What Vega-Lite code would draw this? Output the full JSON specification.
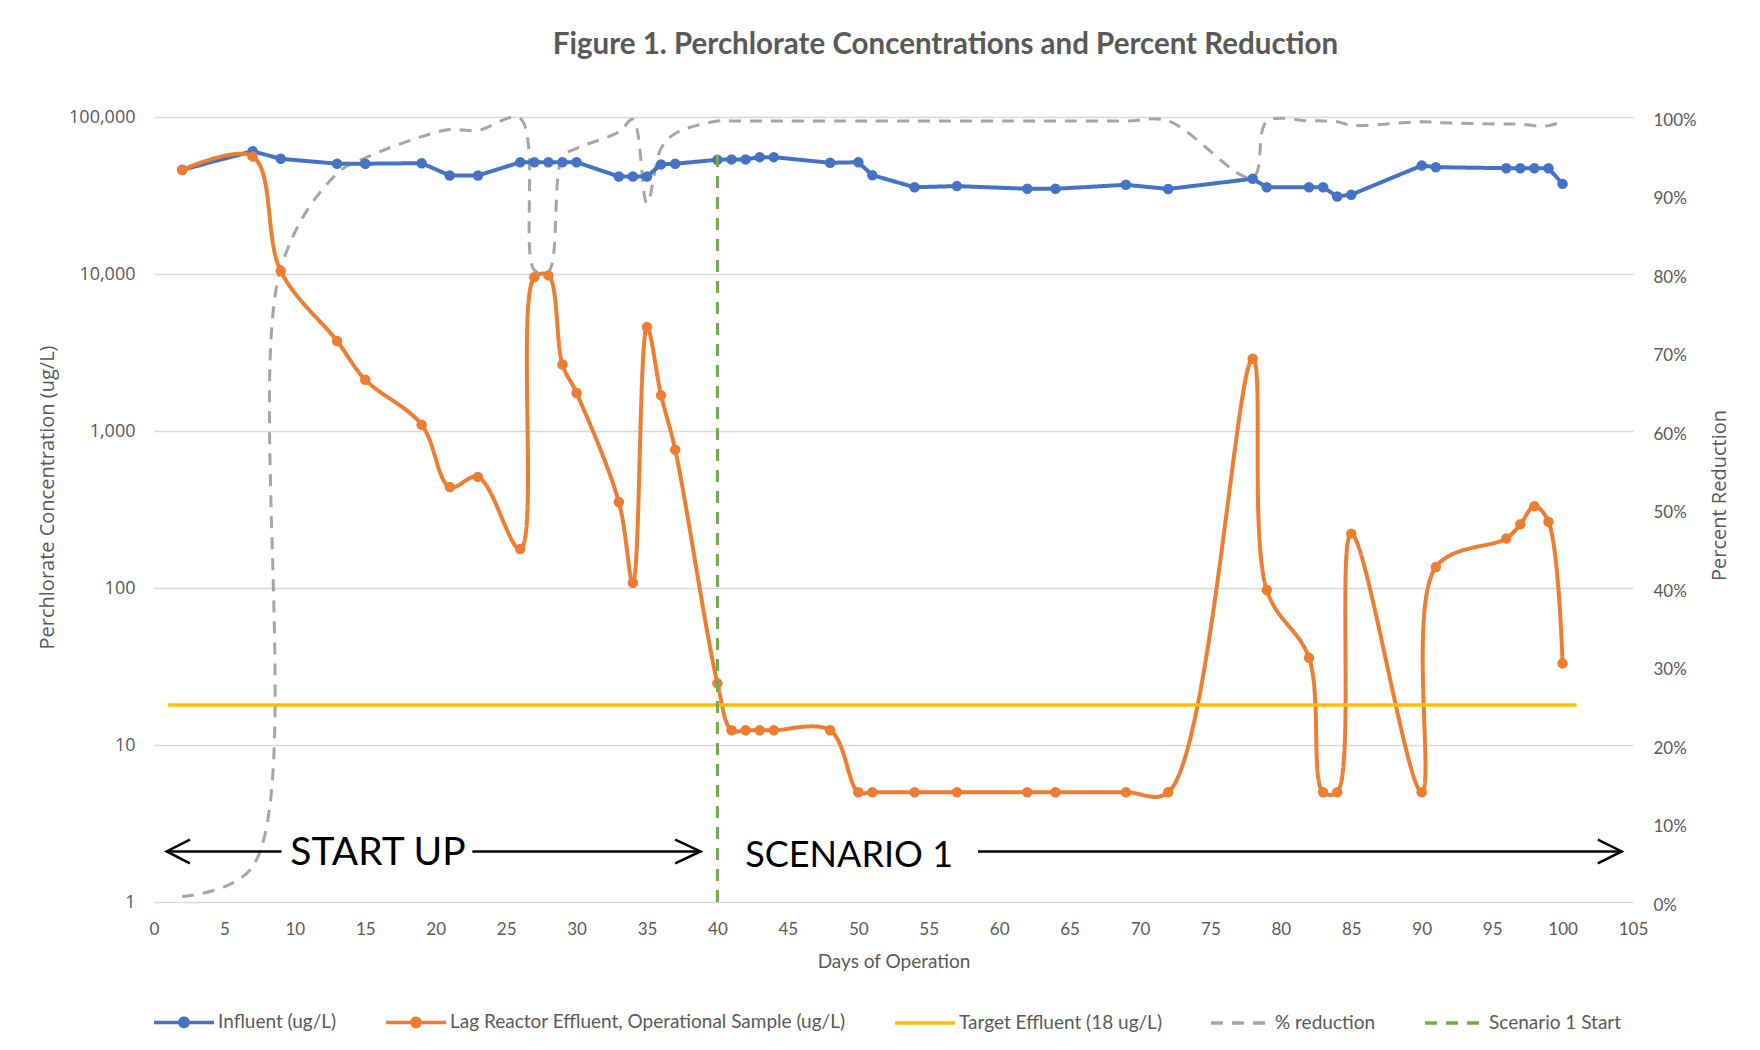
{
  "$schema": "https://vega.github.io/schema/vega-lite/v6.json",
  "width": 1479,
  "height": 785,
  "autosize": {"type": "none"},
  "padding": {"left": 154, "top": 117, "right": 127, "bottom": 148},
  "background": "white",
  "title": {
    "text": "Figure 1. Perchlorate Concentrations and Percent Reduction",
    "font": "Lato", "fontSize": 29.5, "fontWeight": "bold", "color": "#595959",
    "anchor": "middle", "frame": "group", "dx": 52, "offset": 25, "baseline": "alphabetic"
  },
  "config": {"view": {"stroke": null}, "font": "Lato"},
  "datasets": {
    "conc": [
      {"series": "Influent (ug/L)", "day": 2, "value": 46100},
      {"series": "Influent (ug/L)", "day": 7, "value": 60500},
      {"series": "Influent (ug/L)", "day": 9, "value": 54200},
      {"series": "Influent (ug/L)", "day": 13, "value": 50400},
      {"series": "Influent (ug/L)", "day": 15, "value": 50400},
      {"series": "Influent (ug/L)", "day": 19, "value": 50800},
      {"series": "Influent (ug/L)", "day": 21, "value": 42400},
      {"series": "Influent (ug/L)", "day": 23, "value": 42400},
      {"series": "Influent (ug/L)", "day": 26, "value": 51500},
      {"series": "Influent (ug/L)", "day": 27, "value": 51500},
      {"series": "Influent (ug/L)", "day": 28, "value": 51500},
      {"series": "Influent (ug/L)", "day": 29, "value": 51500},
      {"series": "Influent (ug/L)", "day": 30, "value": 51500},
      {"series": "Influent (ug/L)", "day": 33, "value": 41800},
      {"series": "Influent (ug/L)", "day": 34, "value": 41800},
      {"series": "Influent (ug/L)", "day": 35, "value": 41800},
      {"series": "Influent (ug/L)", "day": 36, "value": 49900},
      {"series": "Influent (ug/L)", "day": 37, "value": 50400},
      {"series": "Influent (ug/L)", "day": 40, "value": 53400},
      {"series": "Influent (ug/L)", "day": 41, "value": 53700},
      {"series": "Influent (ug/L)", "day": 42, "value": 53700},
      {"series": "Influent (ug/L)", "day": 43, "value": 55500},
      {"series": "Influent (ug/L)", "day": 44, "value": 55500},
      {"series": "Influent (ug/L)", "day": 48, "value": 51100},
      {"series": "Influent (ug/L)", "day": 50, "value": 51500},
      {"series": "Influent (ug/L)", "day": 51, "value": 42600},
      {"series": "Influent (ug/L)", "day": 54, "value": 35700},
      {"series": "Influent (ug/L)", "day": 57, "value": 36300},
      {"series": "Influent (ug/L)", "day": 62, "value": 34900},
      {"series": "Influent (ug/L)", "day": 64, "value": 34900},
      {"series": "Influent (ug/L)", "day": 69, "value": 37000},
      {"series": "Influent (ug/L)", "day": 72, "value": 34800},
      {"series": "Influent (ug/L)", "day": 78, "value": 40400},
      {"series": "Influent (ug/L)", "day": 79, "value": 35700},
      {"series": "Influent (ug/L)", "day": 82, "value": 35700},
      {"series": "Influent (ug/L)", "day": 83, "value": 35700},
      {"series": "Influent (ug/L)", "day": 84, "value": 31200},
      {"series": "Influent (ug/L)", "day": 85, "value": 32000},
      {"series": "Influent (ug/L)", "day": 90, "value": 49100},
      {"series": "Influent (ug/L)", "day": 91, "value": 47900},
      {"series": "Influent (ug/L)", "day": 96, "value": 47200},
      {"series": "Influent (ug/L)", "day": 97, "value": 47200},
      {"series": "Influent (ug/L)", "day": 98, "value": 47200},
      {"series": "Influent (ug/L)", "day": 99, "value": 47200},
      {"series": "Influent (ug/L)", "day": 100, "value": 37500},
      {"series": "Lag Reactor Effluent, Operational Sample (ug/L)", "day": 2, "value": 46000},
      {"series": "Lag Reactor Effluent, Operational Sample (ug/L)", "day": 7, "value": 56100},
      {"series": "Lag Reactor Effluent, Operational Sample (ug/L)", "day": 9, "value": 10440},
      {"series": "Lag Reactor Effluent, Operational Sample (ug/L)", "day": 13, "value": 3740},
      {"series": "Lag Reactor Effluent, Operational Sample (ug/L)", "day": 15, "value": 2120},
      {"series": "Lag Reactor Effluent, Operational Sample (ug/L)", "day": 19, "value": 1097},
      {"series": "Lag Reactor Effluent, Operational Sample (ug/L)", "day": 21, "value": 440},
      {"series": "Lag Reactor Effluent, Operational Sample (ug/L)", "day": 23, "value": 510},
      {"series": "Lag Reactor Effluent, Operational Sample (ug/L)", "day": 26, "value": 177},
      {"series": "Lag Reactor Effluent, Operational Sample (ug/L)", "day": 27, "value": 9550},
      {"series": "Lag Reactor Effluent, Operational Sample (ug/L)", "day": 28, "value": 9800},
      {"series": "Lag Reactor Effluent, Operational Sample (ug/L)", "day": 29, "value": 2650},
      {"series": "Lag Reactor Effluent, Operational Sample (ug/L)", "day": 30, "value": 1745},
      {"series": "Lag Reactor Effluent, Operational Sample (ug/L)", "day": 33, "value": 353},
      {"series": "Lag Reactor Effluent, Operational Sample (ug/L)", "day": 34, "value": 108},
      {"series": "Lag Reactor Effluent, Operational Sample (ug/L)", "day": 35, "value": 4590},
      {"series": "Lag Reactor Effluent, Operational Sample (ug/L)", "day": 36, "value": 1687},
      {"series": "Lag Reactor Effluent, Operational Sample (ug/L)", "day": 37, "value": 761},
      {"series": "Lag Reactor Effluent, Operational Sample (ug/L)", "day": 40, "value": 24.7},
      {"series": "Lag Reactor Effluent, Operational Sample (ug/L)", "day": 41, "value": 12.4},
      {"series": "Lag Reactor Effluent, Operational Sample (ug/L)", "day": 42, "value": 12.4},
      {"series": "Lag Reactor Effluent, Operational Sample (ug/L)", "day": 43, "value": 12.4},
      {"series": "Lag Reactor Effluent, Operational Sample (ug/L)", "day": 44, "value": 12.4},
      {"series": "Lag Reactor Effluent, Operational Sample (ug/L)", "day": 48, "value": 12.4},
      {"series": "Lag Reactor Effluent, Operational Sample (ug/L)", "day": 50, "value": 5},
      {"series": "Lag Reactor Effluent, Operational Sample (ug/L)", "day": 51, "value": 5},
      {"series": "Lag Reactor Effluent, Operational Sample (ug/L)", "day": 54, "value": 5},
      {"series": "Lag Reactor Effluent, Operational Sample (ug/L)", "day": 57, "value": 5},
      {"series": "Lag Reactor Effluent, Operational Sample (ug/L)", "day": 62, "value": 5},
      {"series": "Lag Reactor Effluent, Operational Sample (ug/L)", "day": 64, "value": 5},
      {"series": "Lag Reactor Effluent, Operational Sample (ug/L)", "day": 69, "value": 5},
      {"series": "Lag Reactor Effluent, Operational Sample (ug/L)", "day": 72, "value": 5},
      {"series": "Lag Reactor Effluent, Operational Sample (ug/L)", "day": 78, "value": 2890},
      {"series": "Lag Reactor Effluent, Operational Sample (ug/L)", "day": 79, "value": 97},
      {"series": "Lag Reactor Effluent, Operational Sample (ug/L)", "day": 82, "value": 35.9},
      {"series": "Lag Reactor Effluent, Operational Sample (ug/L)", "day": 83, "value": 5},
      {"series": "Lag Reactor Effluent, Operational Sample (ug/L)", "day": 84, "value": 5},
      {"series": "Lag Reactor Effluent, Operational Sample (ug/L)", "day": 85, "value": 222},
      {"series": "Lag Reactor Effluent, Operational Sample (ug/L)", "day": 90, "value": 5},
      {"series": "Lag Reactor Effluent, Operational Sample (ug/L)", "day": 91, "value": 136},
      {"series": "Lag Reactor Effluent, Operational Sample (ug/L)", "day": 96, "value": 207},
      {"series": "Lag Reactor Effluent, Operational Sample (ug/L)", "day": 97, "value": 255},
      {"series": "Lag Reactor Effluent, Operational Sample (ug/L)", "day": 98, "value": 332},
      {"series": "Lag Reactor Effluent, Operational Sample (ug/L)", "day": 99, "value": 264},
      {"series": "Lag Reactor Effluent, Operational Sample (ug/L)", "day": 100, "value": 33.1},
      {"series": "Target Effluent (18 ug/L)", "day": 1, "value": 18},
      {"series": "Target Effluent (18 ug/L)", "day": 101, "value": 18},
      {"series": "Scenario 1 Start", "day": 40, "value": 1},
      {"series": "Scenario 1 Start", "day": 40, "value": 58000}
    ],
    "pct": [
      {"series": "% reduction", "day": 2, "pct": 0.007},
      {"series": "% reduction", "day": 7, "pct": 0.045},
      {"series": "% reduction", "day": 9, "pct": 0.807},
      {"series": "% reduction", "day": 13, "pct": 0.928},
      {"series": "% reduction", "day": 15, "pct": 0.948},
      {"series": "% reduction", "day": 19, "pct": 0.975},
      {"series": "% reduction", "day": 21, "pct": 0.984},
      {"series": "% reduction", "day": 23, "pct": 0.983},
      {"series": "% reduction", "day": 26, "pct": 0.998},
      {"series": "% reduction", "day": 27, "pct": 0.805},
      {"series": "% reduction", "day": 28, "pct": 0.803},
      {"series": "% reduction", "day": 29, "pct": 0.949},
      {"series": "% reduction", "day": 30, "pct": 0.96},
      {"series": "% reduction", "day": 33, "pct": 0.981},
      {"series": "% reduction", "day": 34, "pct": 0.997},
      {"series": "% reduction", "day": 35, "pct": 0.89},
      {"series": "% reduction", "day": 36, "pct": 0.96},
      {"series": "% reduction", "day": 37, "pct": 0.979},
      {"series": "% reduction", "day": 40, "pct": 0.995},
      {"series": "% reduction", "day": 41, "pct": 0.995},
      {"series": "% reduction", "day": 42, "pct": 0.995},
      {"series": "% reduction", "day": 43, "pct": 0.995},
      {"series": "% reduction", "day": 44, "pct": 0.995},
      {"series": "% reduction", "day": 48, "pct": 0.995},
      {"series": "% reduction", "day": 50, "pct": 0.995},
      {"series": "% reduction", "day": 51, "pct": 0.995},
      {"series": "% reduction", "day": 54, "pct": 0.995},
      {"series": "% reduction", "day": 57, "pct": 0.995},
      {"series": "% reduction", "day": 62, "pct": 0.995},
      {"series": "% reduction", "day": 64, "pct": 0.995},
      {"series": "% reduction", "day": 69, "pct": 0.995},
      {"series": "% reduction", "day": 72, "pct": 0.995},
      {"series": "% reduction", "day": 78, "pct": 0.923},
      {"series": "% reduction", "day": 79, "pct": 0.994},
      {"series": "% reduction", "day": 82, "pct": 0.995},
      {"series": "% reduction", "day": 83, "pct": 0.995},
      {"series": "% reduction", "day": 84, "pct": 0.994},
      {"series": "% reduction", "day": 85, "pct": 0.9895},
      {"series": "% reduction", "day": 90, "pct": 0.994},
      {"series": "% reduction", "day": 91, "pct": 0.993},
      {"series": "% reduction", "day": 96, "pct": 0.991},
      {"series": "% reduction", "day": 97, "pct": 0.991},
      {"series": "% reduction", "day": 98, "pct": 0.989},
      {"series": "% reduction", "day": 99, "pct": 0.989},
      {"series": "% reduction", "day": 100, "pct": 0.994}
    ],
    "arrows": [
      {"seg": "s1", "ord": 1, "day": 0.9, "value": 2.1},
      {"seg": "s1", "ord": 2, "day": 9.05, "value": 2.1},
      {"seg": "h1", "ord": 1, "day": 2.55, "value": 2.5},
      {"seg": "h1", "ord": 2, "day": 0.9, "value": 2.1},
      {"seg": "h1", "ord": 3, "day": 2.55, "value": 1.764},
      {"seg": "s2", "ord": 1, "day": 22.6, "value": 2.1},
      {"seg": "s2", "ord": 2, "day": 38.8, "value": 2.1},
      {"seg": "h2", "ord": 1, "day": 37.0, "value": 2.5},
      {"seg": "h2", "ord": 2, "day": 38.8, "value": 2.1},
      {"seg": "h2", "ord": 3, "day": 37.0, "value": 1.764},
      {"seg": "s3", "ord": 1, "day": 58.5, "value": 2.1},
      {"seg": "s3", "ord": 2, "day": 104.2, "value": 2.1},
      {"seg": "h3", "ord": 1, "day": 102.5, "value": 2.5},
      {"seg": "h3", "ord": 2, "day": 104.2, "value": 2.1},
      {"seg": "h3", "ord": 3, "day": 102.5, "value": 1.764}
    ],
    "notes": [
      {"label": "START UP", "day": 15.9, "value": 2.05},
      {"label": "SCENARIO 1", "day": 49.35, "value": 1.95}
    ]
  },
  "layer": [
    {
      "data": {"name": "pct"},
      "mark": {"type": "line", "interpolate": "catmull-rom", "strokeWidth": 3},
      "encoding": {
        "x": {"field": "day", "type": "quantitative", "scale": {"domain": [0, 105], "nice": false, "zero": false}},
        "y": {
          "field": "pct", "type": "quantitative",
          "scale": {"domain": [0, 1], "nice": false, "zero": true},
          "axis": {
            "orient": "right", "values": [0, 0.1, 0.2, 0.3, 0.4, 0.5, 0.6, 0.7, 0.8, 0.9, 1], "format": ".0%",
            "grid": false, "domain": false, "ticks": false,
            "labelFont": "Lato", "labelFontSize": 17, "labelColor": "#595959", "labelPadding": 20, "labelOffset": 3,
            "title": "Percent Reduction", "titleFont": "Open Sans", "titleFontSize": 20, "titleFontWeight": "normal",
            "titleColor": "#595959", "titleX": 86, "titleY": 378, "titleAngle": 270, "titleBaseline": "middle", "titleAlign": "center"
          }
        },
        "color": {
          "field": "series", "type": "nominal",
          "scale": {
            "domain": ["Influent (ug/L)", "Lag Reactor Effluent, Operational Sample (ug/L)", "Target Effluent (18 ug/L)", "% reduction", "Scenario 1 Start"],
            "range": ["#4472C4", "#ED7D31", "#FFC000", "#A5A5A5", "#70AD47"]
          }
        },
        "strokeDash": {
          "field": "series", "type": "nominal",
          "scale": {
            "domain": ["Influent (ug/L)", "Lag Reactor Effluent, Operational Sample (ug/L)", "Target Effluent (18 ug/L)", "% reduction", "Scenario 1 Start"],
            "range": [[1, 0], [1, 0], [1, 0], [12, 9], [12, 9]]
          }
        }
      }
    },
    {
      "data": {"name": "conc"},
      "encoding": {
        "x": {
          "field": "day", "type": "quantitative",
          "scale": {"domain": [0, 105], "nice": false, "zero": false},
          "axis": {
            "values": [0, 5, 10, 15, 20, 25, 30, 35, 40, 45, 50, 55, 60, 65, 70, 75, 80, 85, 90, 95, 100, 105],
            "grid": false, "domain": false, "ticks": false, "labelFlush": false, "labelOverlap": false,
            "labelFont": "Lato", "labelFontSize": 17, "labelColor": "#595959", "labelPadding": 19,
            "title": "Days of Operation", "titleFont": "Lato", "titleFontSize": 19, "titleFontWeight": "normal",
            "titleColor": "#595959", "titlePadding": 15
          }
        },
        "y": {
          "field": "value", "type": "quantitative",
          "scale": {"type": "log", "domain": [1, 100000], "nice": false},
          "axis": {
            "orient": "left", "values": [1, 10, 100, 1000, 10000, 100000], "format": ",d",
            "grid": true, "gridColor": "#D9D9D9", "gridWidth": 1.5, "domain": false, "ticks": false,
            "labelFont": "Open Sans", "labelFontSize": 18, "labelColor": "#595959", "labelPadding": 19,
            "title": "Perchlorate Concentration (ug/L)", "titleFont": "Open Sans", "titleFontSize": 20, "titleFontWeight": "normal",
            "titleColor": "#595959", "titleX": -107, "titleY": 380, "titleAngle": 270, "titleBaseline": "middle", "titleAlign": "center"
          }
        }
      },
      "layer": [
        {
          "transform": [{"filter": "datum.series === 'Influent (ug/L)'"}],
          "mark": {"type": "line", "interpolate": "linear", "strokeWidth": 4},
          "encoding": {
            "color": {
              "field": "series", "type": "nominal",
              "scale": {
                "domain": ["Influent (ug/L)", "Lag Reactor Effluent, Operational Sample (ug/L)", "Target Effluent (18 ug/L)", "% reduction", "Scenario 1 Start"],
                "range": ["#4472C4", "#ED7D31", "#FFC000", "#A5A5A5", "#70AD47"]
              },
              "legend": {
                "title": null, "orient": "none", "legendX": -2, "legendY": 873, "direction": "horizontal",
                "symbolType": "stroke", "symbolSize": 3600, "symbolStrokeWidth": 3.5,
                "labelFont": "Lato", "labelFontSize": 19, "labelColor": "#595959", "labelOffset": 2,
                "columnPadding": 42, "labelLimit": 700,
                "encode": {
                  "symbols": {
                    "update": {
                      "shape": {"signal": "(datum.value === 'Influent (ug/L)' || datum.value === 'Lag Reactor Effluent, Operational Sample (ug/L)') ? 'M-1,0H1M-0.14,0A0.14,0.14 0 1,1 0.14,0A0.14,0.14 0 1,1 -0.14,0Z' : 'stroke'"},
                      "fill": {"signal": "datum.value === 'Influent (ug/L)' ? '#4472C4' : (datum.value === 'Lag Reactor Effluent, Operational Sample (ug/L)' ? '#ED7D31' : 'transparent')"}
                    }
                  }
                }
              }
            },
            "strokeDash": {
              "field": "series", "type": "nominal",
              "scale": {
                "domain": ["Influent (ug/L)", "Lag Reactor Effluent, Operational Sample (ug/L)", "Target Effluent (18 ug/L)", "% reduction", "Scenario 1 Start"],
                "range": [[1, 0], [1, 0], [1, 0], [12, 9], [12, 9]]
              }
            }
          }
        },
        {
          "transform": [{"filter": "datum.series === 'Influent (ug/L)'"}],
          "mark": {"type": "point", "filled": true, "size": 110, "opacity": 1, "color": "#4472C4", "strokeWidth": 0}
        },
        {
          "transform": [{"filter": "datum.series === 'Lag Reactor Effluent, Operational Sample (ug/L)'"}],
          "mark": {"type": "line", "interpolate": "catmull-rom", "strokeWidth": 4},
          "encoding": {
            "color": {"field": "series", "type": "nominal"},
            "strokeDash": {"field": "series", "type": "nominal"}
          }
        },
        {
          "transform": [{"filter": "datum.series === 'Lag Reactor Effluent, Operational Sample (ug/L)'"}],
          "mark": {"type": "point", "filled": true, "size": 110, "opacity": 1, "color": "#ED7D31", "strokeWidth": 0}
        },
        {
          "transform": [{"filter": "datum.series === 'Target Effluent (18 ug/L)'"}],
          "mark": {"type": "line", "interpolate": "linear", "strokeWidth": 3.5},
          "encoding": {
            "color": {"field": "series", "type": "nominal"},
            "strokeDash": {"field": "series", "type": "nominal"}
          }
        },
        {
          "transform": [{"filter": "datum.series === 'Scenario 1 Start'"}],
          "mark": {"type": "line", "interpolate": "linear", "strokeWidth": 3},
          "encoding": {
            "color": {"field": "series", "type": "nominal"},
            "strokeDash": {"field": "series", "type": "nominal"},
            "order": {"field": "value", "type": "quantitative"}
          }
        },
        {
          "data": {"name": "arrows"},
          "mark": {"type": "line", "interpolate": "linear", "strokeWidth": 2.5, "color": "black", "strokeJoin": "miter", "strokeCap": "butt"},
          "encoding": {
            "detail": {"field": "seg", "type": "nominal"},
            "order": {"field": "ord", "type": "quantitative"}
          }
        },
        {
          "data": {"name": "notes"},
          "transform": [{"filter": "datum.label === 'START UP'"}],
          "mark": {"type": "text", "font": "Lato", "fontSize": 39, "color": "black", "align": "center", "baseline": "middle"},
          "encoding": {
            "text": {"field": "label", "type": "nominal"}
          }
        },
        {
          "data": {"name": "notes"},
          "transform": [{"filter": "datum.label === 'SCENARIO 1'"}],
          "mark": {"type": "text", "font": "Lato", "fontSize": 36, "color": "black", "align": "center", "baseline": "middle"},
          "encoding": {
            "text": {"field": "label", "type": "nominal"}
          }
        }
      ]
    }
  ],
  "resolve": {"scale": {"y": "independent"}}
}
